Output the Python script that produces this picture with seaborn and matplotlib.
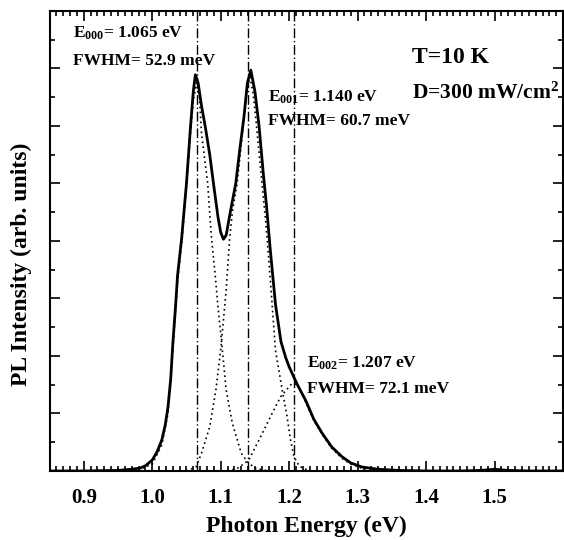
import numpy as np
import pandas as pd
import matplotlib
matplotlib.use("Agg")
import matplotlib.pyplot as plt
import seaborn as sns
from matplotlib.ticker import MultipleLocator, FixedLocator

# measured PL spectrum (solid line)
total_e = [0.85, 0.90, 0.95, 0.97, 0.982, 0.99, 1.000, 1.007, 1.014, 1.019, 1.023, 1.027,
           1.030, 1.034, 1.037, 1.043, 1.050, 1.056, 1.060, 1.063, 1.067, 1.072, 1.078,
           1.084, 1.090, 1.096, 1.100, 1.104, 1.108, 1.114, 1.122, 1.128, 1.134, 1.139,
           1.144, 1.150, 1.156, 1.162, 1.167, 1.172, 1.180, 1.188, 1.195, 1.200, 1.212,
           1.224, 1.236, 1.248, 1.262, 1.277, 1.290, 1.306, 1.330, 1.360, 1.400, 1.450,
           1.480, 1.500, 1.520, 1.550, 1.600]
total_i = [0.0, 0.0, 0.01, 0.03, 0.05, 0.09, 0.19, 0.33, 0.54, 0.80, 1.11, 1.60,
           2.20, 2.85, 3.40, 4.05, 5.00, 6.00, 6.60, 6.89, 6.75, 6.35, 5.95,
           5.50, 4.95, 4.42, 4.15, 4.03, 4.10, 4.50, 5.00, 5.60, 6.16, 6.75,
           6.97, 6.60, 6.00, 5.20, 4.60, 3.90, 2.90, 2.25, 1.97, 1.81, 1.50,
           1.23, 0.90, 0.66, 0.42, 0.25, 0.14, 0.07, 0.03, 0.01, 0.0, 0.0,
           0.01, 0.03, 0.01, 0.0, 0.0]

# fitted components (dotted lines)
e000_e = [0.95, 0.98, 1.000, 1.014, 1.023, 1.030, 1.037, 1.043, 1.050, 1.056, 1.060,
          1.065, 1.069, 1.072, 1.081, 1.086, 1.092, 1.096, 1.101, 1.108, 1.117, 1.130,
          1.139, 1.150, 1.170]
e000_i = [0.0, 0.02, 0.12, 0.45, 1.00, 2.10, 3.30, 3.95, 4.95, 5.90, 6.45,
          6.75, 6.50, 5.87, 5.00, 4.13, 3.40, 2.86, 2.28, 1.41, 0.83, 0.31,
          0.16, 0.05, 0.0]

e001_e = [1.050, 1.064, 1.072, 1.084, 1.093, 1.1005, 1.108, 1.113, 1.117, 1.124, 1.132,
          1.137, 1.1426, 1.147, 1.151, 1.158, 1.166, 1.172, 1.180, 1.185, 1.190, 1.197,
          1.202, 1.207, 1.215, 1.230]
e001_i = [0.0, 0.07, 0.31, 0.77, 1.41, 2.16, 3.15, 4.02, 4.50, 5.00, 5.90,
          6.50, 6.85, 6.60, 6.16, 5.29, 4.30, 3.40, 2.10, 1.75, 1.40, 0.94,
          0.54, 0.25, 0.08, 0.0]

e002_e = [1.110, 1.125, 1.141, 1.161, 1.175, 1.1875, 1.204, 1.212, 1.224, 1.236, 1.248,
          1.262, 1.277, 1.290, 1.306, 1.330, 1.350]
e002_i = [0.0, 0.05, 0.19, 0.66, 1.00, 1.29, 1.52, 1.50, 1.20, 0.88, 0.64,
          0.40, 0.22, 0.12, 0.05, 0.01, 0.0]

peak_pos = [1.065, 1.140, 1.207]
peak_names = ["000", "001", "002"]
fwhm = [52.9, 60.7, 72.1]
x_ticks = [0.9, 1.0, 1.1, 1.2, 1.3, 1.4, 1.5]

sns.set_theme(style="ticks")
plt.rcParams["font.family"] = ["Liberation Serif", "DejaVu Serif"]
plt.rcParams["font.weight"] = "bold"
plt.rcParams["axes.labelweight"] = "bold"
plt.rcParams["text.color"] = "black"
plt.rcParams["axes.labelcolor"] = "black"
plt.rcParams["xtick.color"] = "black"
plt.rcParams["ytick.color"] = "black"
plt.rcParams["mathtext.fontset"] = "custom"
plt.rcParams["mathtext.rm"] = "Liberation Serif:bold"
plt.rcParams["mathtext.it"] = "Liberation Serif:bold"
plt.rcParams["mathtext.bf"] = "Liberation Serif:bold"

fig = plt.figure(figsize=(5.64, 5.40), dpi=100)
ax = fig.add_axes([0.0878, 0.1278, 0.9105, 0.852])

for e, i in [(e000_e, e000_i), (e001_e, e001_i), (e002_e, e002_i)]:
    comp = pd.DataFrame({"E": e, "I": i})
    sns.lineplot(data=comp, x="E", y="I", ax=ax, color="black", linestyle=(0, (1, 2)),
                 linewidth=1.2, zorder=2)

spec = pd.DataFrame({"E": total_e, "I": total_i})
sns.lineplot(data=spec, x="E", y="I", ax=ax, color="black", linewidth=2.0, zorder=3)

for p in peak_pos:
    ax.axvline(p, color="black", linewidth=1.0, linestyle=(0, (7, 2, 1, 2)), zorder=1)

ax.set_xlim(0.85, 1.60)
ax.set_ylim(0, 8)
ax.xaxis.set_major_locator(FixedLocator(x_ticks))
ax.xaxis.set_minor_locator(MultipleLocator(0.01))
ax.yaxis.set_major_locator(MultipleLocator(1))
ax.yaxis.set_minor_locator(MultipleLocator(0.5))
ax.tick_params(which="both", direction="in", top=True, right=True, width=1.2, colors="black")
ax.tick_params(which="major", length=7)
ax.tick_params(which="minor", length=3.5)
ax.tick_params(axis="x", which="major", pad=12, labelsize=15)
ax.set_yticklabels([])
for s in ax.spines.values():
    s.set_linewidth(1.5)
    s.set_color("black")

ax.set_xlabel("Photon Energy (eV)", fontsize=17, labelpad=6)
ax.set_ylabel("PL Intensity (arb. units)", fontsize=17)
ax.yaxis.set_label_coords(-0.034, 0.45)

# peak annotations
label_xy = [(0.0458, 0.943, 0.883), (0.4255, 0.802, 0.752), (0.501, 0.224, 0.170)]
for (tx, ty1, ty2), name, p, w in zip(label_xy, peak_names, peak_pos, fwhm):
    ax.text(tx, ty1, "E$_{%s}$= %.3f eV" % (name, p), transform=ax.transAxes,
            fontsize=12.5, va="baseline", ha="left")
    ax.text(tx, ty2, "FWHM= %.1f meV" % w, transform=ax.transAxes,
            fontsize=12.5, va="baseline", ha="left")

ax.text(0.705, 0.887, "T=10 K", transform=ax.transAxes, fontsize=17, va="baseline")
ax.text(0.705, 0.809, "D=300 mW/cm$^{2}$", transform=ax.transAxes, fontsize=15.5, va="baseline")

fig.savefig("out.png", dpi=100)
